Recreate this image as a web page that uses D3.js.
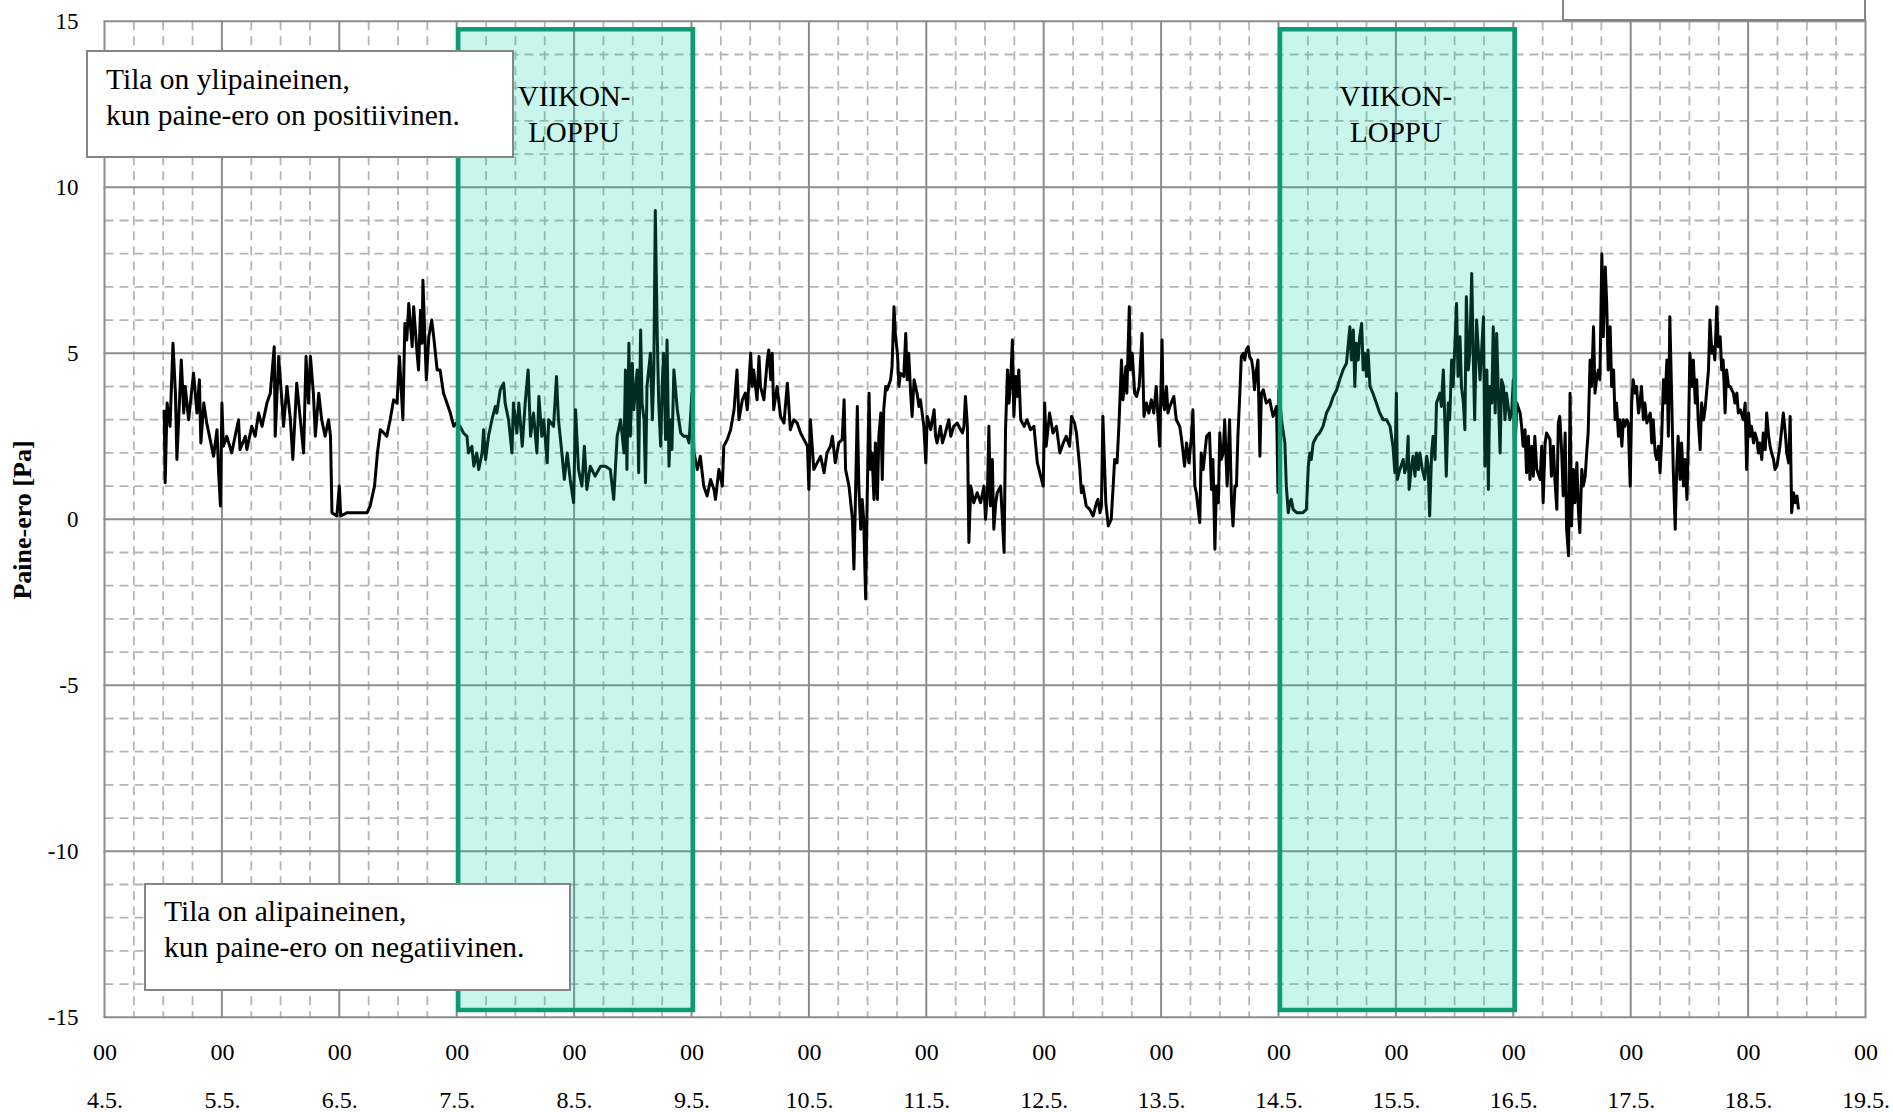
<!DOCTYPE html>
<html>
<head>
<meta charset="utf-8">
<script src="https://cdn.jsdelivr.net/npm/d3@7"></script>
<style>
    body { margin: 0; background: #fff; }
    svg text { font-family: "Liberation Serif", "Times New Roman", serif; fill: #000; }
</style>
</head>
<body>
<div id="chart"></div>
<script>

// tick values
var yTicks = [-15, -10, -5, 0, 5, 10, 15];
var startDay = new Date(2022, 4, 4);
var endDay = new Date(2022, 4, 19);

// weekends [start, end]
var weekends = [
    [new Date(2022, 4, 7), new Date(2022, 4, 9)],
    [new Date(2022, 4, 14), new Date(2022, 4, 16)]
];
var weekendLabel = ["VIIKON-", "LOPPU"];
var noteOver = ["Tila on ylipaineinen,", "kun paine-ero on positiivinen."];
var noteUnder = ["Tila on alipaineinen,", "kun paine-ero on negatiivinen."];

// measured pressure difference [hours from 4.5. 00:00, Pa]
var data4to8 = [[12.2,3.3],[12.4,1.1],[12.8,3.5],[13.4,2.8],[14.0,5.3],[14.5,3.8],[14.8,1.8],[15.7,4.8],[16.2,3.2],[16.5,4.0],
    [17.2,3.0],[18.2,4.4],[18.9,3.2],[19.4,4.2],[19.7,2.3],[20.3,3.5],[20.9,2.9],[21.6,2.4],[22.3,1.9],[23.0,2.7],[23.3,1.5],
    [23.7,0.4],[24.0,3.5],[24.3,2.2],[25.0,2.5],[26.0,2.0],[27.4,3.0],[27.7,2.1],[28.8,2.5],[29.1,2.1],[30.1,2.8],[30.8,2.5],
    [31.5,3.2],[32.2,2.8],[33.2,3.5],[33.9,3.8],[34.7,5.2],[34.9,2.5],[35.6,4.9],[36.3,3.5],[36.6,2.8],[37.3,4.0],[38.0,3.0],
    [38.5,1.8],[39.3,4.1],[40.7,2.0],[41.2,4.9],[41.7,3.5],[42.1,4.9],[42.7,3.8],[43.1,2.5],[43.8,3.8],[44.4,3.0],[45.1,2.5],
    [45.8,3.0],[46.2,2.5],[46.5,0.2],[47.5,0.1],[48.0,1.0],[48.3,0.1],[49.6,0.2],[51.6,0.2],[53.7,0.2],[54.3,0.4],[55.2,1.0],
    [55.8,2.0],[56.4,2.7],[57.1,2.6],[57.7,2.5],[58.4,3.0],[59.1,3.6],[59.8,3.5],[60.3,4.9],[61.0,3.0],[61.4,5.9],[61.8,5.4],
    [62.2,6.5],[62.9,5.2],[63.2,6.4],[63.9,5.0],[64.2,4.5],[64.6,6.3],[64.9,5.3],[65.1,7.2],[65.6,5.0],[65.8,4.2],[66.3,5.5],
    [66.9,6.0],[67.3,5.5],[68.0,4.5],[68.6,4.5],[69.3,3.8],[70.0,3.5],[70.7,3.2],[71.4,2.8],[71.9,2.9],[72.7,2.8],[73.4,2.6],
    [74.1,2.5],[74.4,2.0],[75.1,2.2],[75.5,1.6],[76.1,2.0],[76.5,1.5],[77.2,2.0],[77.5,2.7],[77.9,1.8],[78.5,2.5],[79.2,3.0],
    [79.9,3.4],[80.2,3.2],[80.9,3.9],[81.6,4.1],[81.9,3.5],[82.6,3.0],[83.3,2.0],[83.6,3.5],[84.3,2.6],[84.7,3.5],[85.4,2.2],
    [86.0,3.5],[86.6,4.5],[87.1,2.5],[87.7,3.2],[88.4,2.0],[88.8,3.7],[89.4,2.5],[89.8,3.0],[90.5,1.7],[90.8,3.0],[91.8,2.8],
    [92.4,4.3],[92.8,3.0],[93.5,2.0],[94.0,1.2],[94.6,2.0],[95.2,1.2],[95.9,0.5],[96.3,3.3],[96.9,1.5],[97.6,1.0],[98.1,2.2],
    [98.6,0.9],[99.3,1.6],[100.3,1.3],[101.4,1.6]];

var data8to12 = [[102.4,1.6],[103.4,1.5],[104.1,0.6],[104.8,2.5],[105.5,3.0],[106.2,2.0],[106.5,4.5],[106.8,1.5],[107.2,5.3],
    [107.5,2.5],[107.9,4.7],[108.2,3.3],[108.9,4.5],[109.2,1.4],[109.6,5.7],[109.9,3.5],[110.3,3.0],[110.6,1.1],[110.9,4.0],
    [111.6,5.0],[112.0,3.0],[112.3,4.5],[112.6,9.3],[113.0,5.5],[113.3,3.5],[113.7,2.2],[114.0,4.0],[114.3,5.0],[114.7,2.4],
    [115.0,5.4],[115.4,1.6],[115.7,3.0],[116.0,2.1],[116.4,4.5],[117.1,3.3],[117.8,2.6],[118.4,2.5],[119.1,2.5],[119.5,2.3],
    [120.1,3.8],[120.5,2.0],[121.2,1.5],[121.8,1.9],[122.5,1.0],[123.2,0.7],[123.9,1.2],[124.6,0.9],[124.9,0.6],[125.6,1.5],
    [126.3,1.0],[126.6,2.2],[127.3,2.4],[128.0,2.7],[128.7,3.3],[129.3,4.5],[129.7,3.0],[130.4,3.6],[131.0,3.8],[131.4,3.3],
    [132.1,5.0],[132.4,4.0],[132.7,4.5],[133.4,3.6],[133.8,4.9],[134.1,4.0],[134.8,3.6],[135.5,4.8],[135.8,5.1],[136.2,4.2],
    [136.5,5.0],[136.8,3.3],[137.5,4.0],[138.2,3.1],[138.9,2.9],[139.6,4.1],[140.2,2.7],[140.9,3.0],[141.6,2.9],[142.3,2.6],
    [143.0,2.4],[143.7,2.2],[144.0,0.9],[144.3,3.0],[145.0,1.5],[145.7,1.7],[146.4,1.9],[147.1,1.4],[147.7,2.0],[148.4,2.2],
    [148.8,2.5],[149.4,1.7],[150.1,2.3],[150.8,2.4],[151.2,3.6],[151.5,1.5],[152.2,1.0],[152.9,0.0],[153.2,-1.5],[153.5,0.5],
    [153.9,3.4],[154.2,1.0],[154.6,-0.3],[154.9,0.6],[155.2,0.0],[155.6,-2.4],[155.9,0.5],[156.3,3.8],[156.6,1.5],[156.9,2.0],
    [157.3,0.6],[157.6,2.3],[158.0,0.6],[158.3,2.5],[158.7,3.2],[159.0,1.2],[159.3,3.3],[159.7,4.0],[160.0,3.9],[160.7,4.2],
    [161.0,4.6],[161.4,6.4],[161.7,5.5],[162.1,5.0],[162.4,4.0],[162.7,4.4],[163.4,4.3],[163.8,5.6],[164.1,4.2],[164.4,5.0],
    [164.8,3.8],[165.1,3.1],[165.5,4.2],[166.1,3.8],[166.5,3.4],[166.8,3.6],[167.5,2.8],[167.9,1.7],[168.2,3.1],[168.9,2.7],
    [169.6,3.3],[169.9,2.5],[170.2,2.3],[170.9,2.8],[171.3,2.3],[171.9,2.6],[172.6,3.0],[173.0,2.5],[173.6,2.8],[174.3,2.9],
    [175.0,2.7],[175.4,2.6],[175.7,2.8],[176.0,3.7],[176.4,2.8],[176.7,-0.7],[177.1,1.0],[177.7,0.5],[178.4,0.8],[179.1,0.5],
    [179.8,1.0],[180.1,0.0],[180.5,0.8],[180.8,2.8],[181.1,0.4],[181.5,1.8],[181.8,-0.3],[182.2,0.5],[182.5,0.8],[183.2,1.0],
    [183.9,-1.0],[184.2,2.7],[184.6,4.5],[184.9,3.5],[185.2,4.0],[185.6,5.4],[185.9,3.1],[186.3,4.3],[186.6,3.7],[186.9,4.5],
    [187.3,3.0],[188.0,2.8],[188.6,3.0],[189.3,2.7],[190.0,2.8],[190.7,1.7]];

var data12to16 = [[191.9,1.0],[192.2,3.5],[192.5,2.2],[193.2,3.2],[193.9,2.6],[194.6,2.8],[195.3,2.0],[196.0,2.3],[196.6,2.5],
    [197.3,2.2],[197.7,3.1],[198.3,2.9],[198.7,2.6],[199.4,1.5],[199.7,0.8],[200.0,1.0],[200.7,0.4],[201.4,0.3],[202.1,0.1],
    [202.8,0.5],[203.1,0.6],[203.5,0.2],[203.8,0.4],[204.1,3.1],[204.7,0.5],[205.2,-0.2],[205.8,0.0],[206.2,1.0],[206.5,1.8],
    [207.0,1.7],[207.4,2.9],[207.9,4.8],[208.2,3.6],[208.8,4.6],[209.0,3.8],[209.5,6.4],[209.7,4.5],[210.1,5.0],[210.6,3.8],
    [211.0,3.7],[211.5,4.0],[211.6,4.2],[212.1,5.6],[212.5,3.1],[213.0,3.5],[213.5,3.2],[214.0,3.6],[214.5,3.2],[215.0,4.0],
    [215.4,3.0],[215.7,2.2],[216.2,5.4],[216.4,3.5],[216.7,3.3],[217.1,4.0],[217.4,3.2],[217.8,3.4],[218.6,3.7],[219.1,3.0],
    [219.8,2.8],[220.2,2.4],[220.8,1.6],[221.2,2.3],[221.7,1.7],[222.2,2.5],[222.5,3.3],[222.9,1.0],[223.2,0.8],[223.9,-0.1],
    [224.2,2.0],[224.6,1.5],[225.3,2.5],[225.9,2.6],[226.3,0.9],[226.6,1.8],[227.0,-0.9],[227.3,1.0],[227.7,0.5],[228.0,2.6],
    [228.3,1.8],[228.7,2.0],[229.0,3.0],[229.5,1.0],[230.0,3.0],[230.4,0.5],[230.7,-0.2],[231.1,1.0],[231.4,1.0],[231.7,2.5],
    [232.1,3.8],[232.4,4.9],[232.8,5.0],[233.1,4.8],[233.4,5.1],[233.8,5.2],[234.1,4.9],[234.5,4.8],[234.8,4.5],[235.1,3.9],
    [235.5,4.5],[235.8,4.8],[236.2,1.9],[236.5,3.8],[236.9,3.9],[237.5,3.5],[238.2,3.6],[238.6,3.3],[238.9,3.1],[239.6,3.4],
    [239.9,0.8],[240.1,3.9],[240.6,3.0],[241.3,2.3],[241.6,1.0],[242.0,0.2],[242.3,0.5],[242.6,0.6],[243.0,0.3],[243.7,0.2],
    [244.4,0.2],[245.0,0.2],[245.7,0.3],[246.1,1.6],[246.4,2.0],[246.7,1.8],[247.1,2.3],[247.8,2.5],[248.4,2.6],[249.1,2.8],
    [249.8,3.2],[250.5,3.4],[251.2,3.7],[251.9,3.9],[252.5,4.2],[253.2,4.5],[253.9,4.7],[254.6,5.8],[254.9,4.8],[255.3,5.7],
    [255.6,4.0],[255.9,5.3],[256.3,4.8],[256.6,5.5],[257.0,5.9],[257.3,4.5],[257.6,5.0],[258.0,4.3],[258.3,5.1],[258.7,4.0],
    [259.3,3.8],[260.0,3.5],[260.7,3.2],[261.4,3.0],[262.1,3.0],[262.8,2.8],[263.4,2.2],[263.8,1.4],[264.1,3.8],[264.3,1.2],
    [264.8,1.5],[265.5,1.8],[265.8,1.4],[266.2,1.6],[266.5,2.5],[266.7,0.9],[267.2,1.6],[267.5,1.9],[267.9,1.3],[268.2,2.0],
    [268.6,1.5],[268.9,2.0],[269.4,1.5],[269.9,1.2],[270.3,1.9],[270.6,1.6],[270.9,0.1],[271.3,2.0],[271.6,2.5],[272.0,1.8],
    [272.3,3.5],[273.0,3.8],[273.3,3.4],[273.7,4.5],[274.0,3.0],[274.3,1.3],[274.7,3.5],[275.0,3.0],[275.4,4.8],[275.7,4.0],
    [276.4,6.5],[276.7,4.3],[277.1,5.5],[277.4,4.0],[277.8,3.5],[278.1,2.7],[278.4,6.7],[278.8,4.5],[279.1,5.0],[279.5,7.4],
    [279.8,5.0],[280.1,3.0],[280.5,6.0]];

var data16to19 = [[281.2,4.2],[281.9,6.1],[282.2,1.6],[282.6,4.5],[282.9,0.9],[283.2,4.0],[283.6,3.5],[283.9,5.8],[284.3,3.2],
    [284.6,5.6],[284.9,4.0],[285.3,2.0],[285.6,4.2],[286.0,4.0],[286.3,3.0],[286.6,3.8],[287.3,3.0],[287.7,3.3],[288.0,4.2],
    [288.3,1.8],[288.7,3.5],[289.4,3.2],[289.7,2.8],[290.0,2.2],[290.4,2.7],[290.7,1.4],[291.1,2.5],[291.4,1.2],[291.8,2.2],
    [292.1,1.3],[292.4,2.5],[292.8,1.5],[293.5,1.2],[293.8,2.2],[294.1,0.5],[294.5,2.3],[294.8,2.6],[295.5,2.4],[295.8,1.3],
    [296.2,2.2],[296.5,1.2],[296.9,0.3],[297.2,2.9],[297.5,3.1],[297.9,2.0],[298.2,0.7],[298.6,2.6],[298.9,-0.3],[299.3,-1.1],
    [299.6,3.8],[299.9,-0.2],[300.3,1.5],[300.6,0.5],[301.0,1.7],[301.3,0.3],[301.6,-0.4],[302.0,1.5],[302.3,1.0],[302.7,1.3],
    [303.0,2.0],[303.3,2.6],[303.7,4.8],[304.0,4.0],[304.4,5.8],[304.7,3.8],[305.0,4.2],[305.4,4.5],[305.7,4.2],[306.1,8.0],
    [306.4,5.5],[306.8,7.6],[307.1,6.5],[307.4,4.5],[307.8,5.8],[308.1,4.0],[308.5,4.5],[308.8,3.0],[309.1,3.5],[309.5,2.5],
    [309.8,3.0],[310.2,2.2],[310.5,3.0],[310.8,2.8],[311.2,3.0],[311.5,2.9],[311.9,1.0],[312.2,3.5],[312.5,4.2],[312.9,3.8],
    [313.2,4.0],[313.6,3.2],[313.9,3.5],[314.2,4.0],[314.6,3.0],[314.9,3.5],[315.3,2.9],[316.0,3.2],[316.3,2.3],[316.6,3.0],
    [317.0,2.0],[317.3,1.8],[317.7,2.2],[318.0,1.4],[318.3,2.3],[318.7,4.2],[319.0,3.5],[319.4,4.8],[319.7,2.5],[320.0,6.1],
    [320.4,3.5],[320.7,1.5],[321.1,-0.3],[321.4,1.5],[321.7,2.5],[322.1,1.2],[322.4,2.3],[322.8,1.0],[323.1,1.8],[323.5,0.6],
    [323.8,2.5],[324.1,5.0],[324.5,4.0],[324.8,4.8],[325.2,3.5],[325.5,4.2],[325.8,3.0],[326.2,2.1],[326.5,3.5],[326.9,3.0],
    [327.2,3.3],[327.5,3.8],[327.9,4.5],[328.2,6.0],[328.6,5.0],[328.9,5.2],[329.2,4.8],[329.6,6.4],[329.9,5.2],[330.3,5.5],
    [330.6,4.5],[330.9,4.8],[331.3,3.2],[331.6,4.5],[332.0,4.0],[332.3,4.0],[333.0,3.8],[333.3,3.5],[333.7,3.8],[334.0,3.2],
    [334.4,3.3],[335.0,3.0],[335.4,3.5],[335.7,1.5],[336.1,3.2],[336.4,2.5],[336.7,2.8],[337.1,2.3],[337.4,2.6],[337.8,2.4],
    [338.1,2.0],[338.4,2.3],[338.8,1.8],[339.1,2.6],[339.5,2.1],[339.8,3.2],[340.2,2.5],[340.5,2.2],[340.8,2.0],[341.2,1.8],
    [341.5,1.5],[341.9,1.6],[342.5,2.2],[343.2,3.2],[343.6,2.6],[343.9,2.0],[344.3,1.7],[344.6,3.1],[344.9,0.2],[345.3,0.8],
    [345.6,0.5],[346.0,0.7],[346.3,0.3]];

var readings = data4to8.concat(data8to12, data12to16, data16to19).map(function(d) {
    return { time: d3.timeMinute.offset(startDay, Math.round(d[0] * 60)), value: d[1] };
});

var width = 1893, height = 1112;
var serif = "'Liberation Serif', 'Times New Roman', serif";

var svg = d3.select("#chart").append("svg")
    .attr("width", width)
    .attr("height", height);

var x = d3.scaleTime()
    .domain([startDay, endDay])
    .range([104.5, 1865.5]);

var y = d3.scaleLinear()
    .domain([-15, 15])
    .range([1017.3, 21.3]);

// grid
var grid = svg.append("g").attr("class", "grid");

grid.selectAll(".vminor")
    .data(d3.timeHour.every(6).range(startDay, endDay).filter(function(d) { return d.getHours() !== 0; }))
    .enter().append("line")
    .attr("x1", function(d) { return x(d); })
    .attr("x2", function(d) { return x(d); })
    .attr("y1", y(15)).attr("y2", y(-15))
    .style("stroke", "#b5b5b5").style("stroke-width", 1.8).style("stroke-dasharray", "9,6");

grid.selectAll(".hminor")
    .data(d3.range(-14, 15).filter(function(d) { return d % 5 !== 0; }))
    .enter().append("line")
    .attr("x1", x.range()[0]).attr("x2", x.range()[1])
    .attr("y1", function(d) { return y(d); })
    .attr("y2", function(d) { return y(d); })
    .style("stroke", "#b5b5b5").style("stroke-width", 1.8).style("stroke-dasharray", "9,6");

grid.selectAll(".vmajor")
    .data(d3.timeDay.range(startDay, d3.timeDay.offset(endDay, 1)))
    .enter().append("line")
    .attr("x1", function(d) { return x(d); })
    .attr("x2", function(d) { return x(d); })
    .attr("y1", y(15)).attr("y2", y(-15))
    .style("stroke", "#8c8c8c").style("stroke-width", 2);

grid.selectAll(".hmajor")
    .data(yTicks)
    .enter().append("line")
    .attr("x1", x.range()[0] - 1).attr("x2", x.range()[1] + 1)
    .attr("y1", function(d) { return y(d); })
    .attr("y2", function(d) { return y(d); })
    .style("stroke", "#8c8c8c").style("stroke-width", 2);

// the measurement line
var line = d3.line()
    .x(function(d) { return x(d.time); })
    .y(function(d) { return y(d.value); });

svg.append("path")
    .datum(readings)
    .attr("d", line)
    .attr("fill", "none")
    .style("stroke", "#000")
    .style("stroke-width", 3)
    .style("stroke-linejoin", "round");

// weekend boxes (drawn over the line, like the original)
var wk = svg.selectAll(".weekend")
    .data(weekends)
    .enter().append("g")
    .attr("class", "weekend");

wk.append("rect")
    .attr("x", function(d) { return x(d[0]) + 1.5; })
    .attr("y", y(14.76))
    .attr("width", function(d) { return x(d[1]) - x(d[0]); })
    .attr("height", y(-14.78) - y(14.76))
    .style("fill", "rgba(0, 214, 167, 0.21)")
    .style("stroke", "#0f9a76")
    .style("stroke-width", 4.5);

weekendLabel.forEach(function(t, i) {
    wk.append("text")
        .attr("x", function(d) { return (x(d[0]) + x(d[1])) / 2; })
        .attr("y", 106 + i * 36)
        .attr("text-anchor", "middle")
        .style("font-size", "29px")
        .text(t);
});

// axes
var xHour = d3.axisBottom(x)
    .ticks(d3.timeDay.every(1))
    .tickSize(0)
    .tickFormat(function() { return "00"; });

var xDate = d3.axisBottom(x)
    .ticks(d3.timeDay.every(1))
    .tickSize(0)
    .tickFormat(function(d) { return d.getDate() + "." + (d.getMonth() + 1) + "."; });

svg.append("g")
    .attr("transform", "translate(0," + y(-15) + ")")
    .call(xHour)
    .call(function(g) { g.select(".domain").remove(); })
    .selectAll("text")
    .attr("y", 34).attr("dy", "0.35em")
    .style("font-size", "24px")
    .style("font-family", serif);

svg.append("g")
    .attr("transform", "translate(0," + y(-15) + ")")
    .call(xDate)
    .call(function(g) { g.select(".domain").remove(); })
    .selectAll("text")
    .attr("y", 82).attr("dy", "0.35em")
    .style("font-size", "24px")
    .style("font-family", serif);

var yAxis = d3.axisLeft(y)
    .tickValues(yTicks)
    .tickSize(0)
    .tickPadding(26)
    .tickFormat(function(d) { return String(d); });

svg.append("g")
    .attr("transform", "translate(" + x.range()[0] + ",0)")
    .call(yAxis)
    .call(function(g) { g.select(".domain").remove(); })
    .selectAll("text")
    .style("font-size", "23px")
    .style("font-family", serif);

svg.append("text")
    .attr("transform", "translate(31,520) rotate(-90)")
    .attr("text-anchor", "middle")
    .style("font-size", "26px")
    .style("font-weight", "bold")
    .text("Paine-ero [Pa]");

// note boxes
function note(bx, by, bw, bh, lines, tx, ty) {
    svg.append("rect")
        .attr("x", bx).attr("y", by)
        .attr("width", bw).attr("height", bh)
        .style("fill", "#fff")
        .style("stroke", "#858585")
        .style("stroke-width", 2);
    lines.forEach(function(t, i) {
        svg.append("text")
            .attr("x", tx).attr("y", ty + i * 36)
            .style("font-size", "29.5px")
            .text(t);
    });
}

note(87, 51, 426, 106, noteOver, 106, 89);
note(145, 884, 425, 106, noteUnder, 164, 921);

// legend box cut by the top edge
svg.append("rect")
    .attr("x", 1563).attr("y", -10)
    .attr("width", 302).attr("height", 30)
    .style("fill", "#fff")
    .style("stroke", "#858585")
    .style("stroke-width", 2);

</script>
</body>
</html>
